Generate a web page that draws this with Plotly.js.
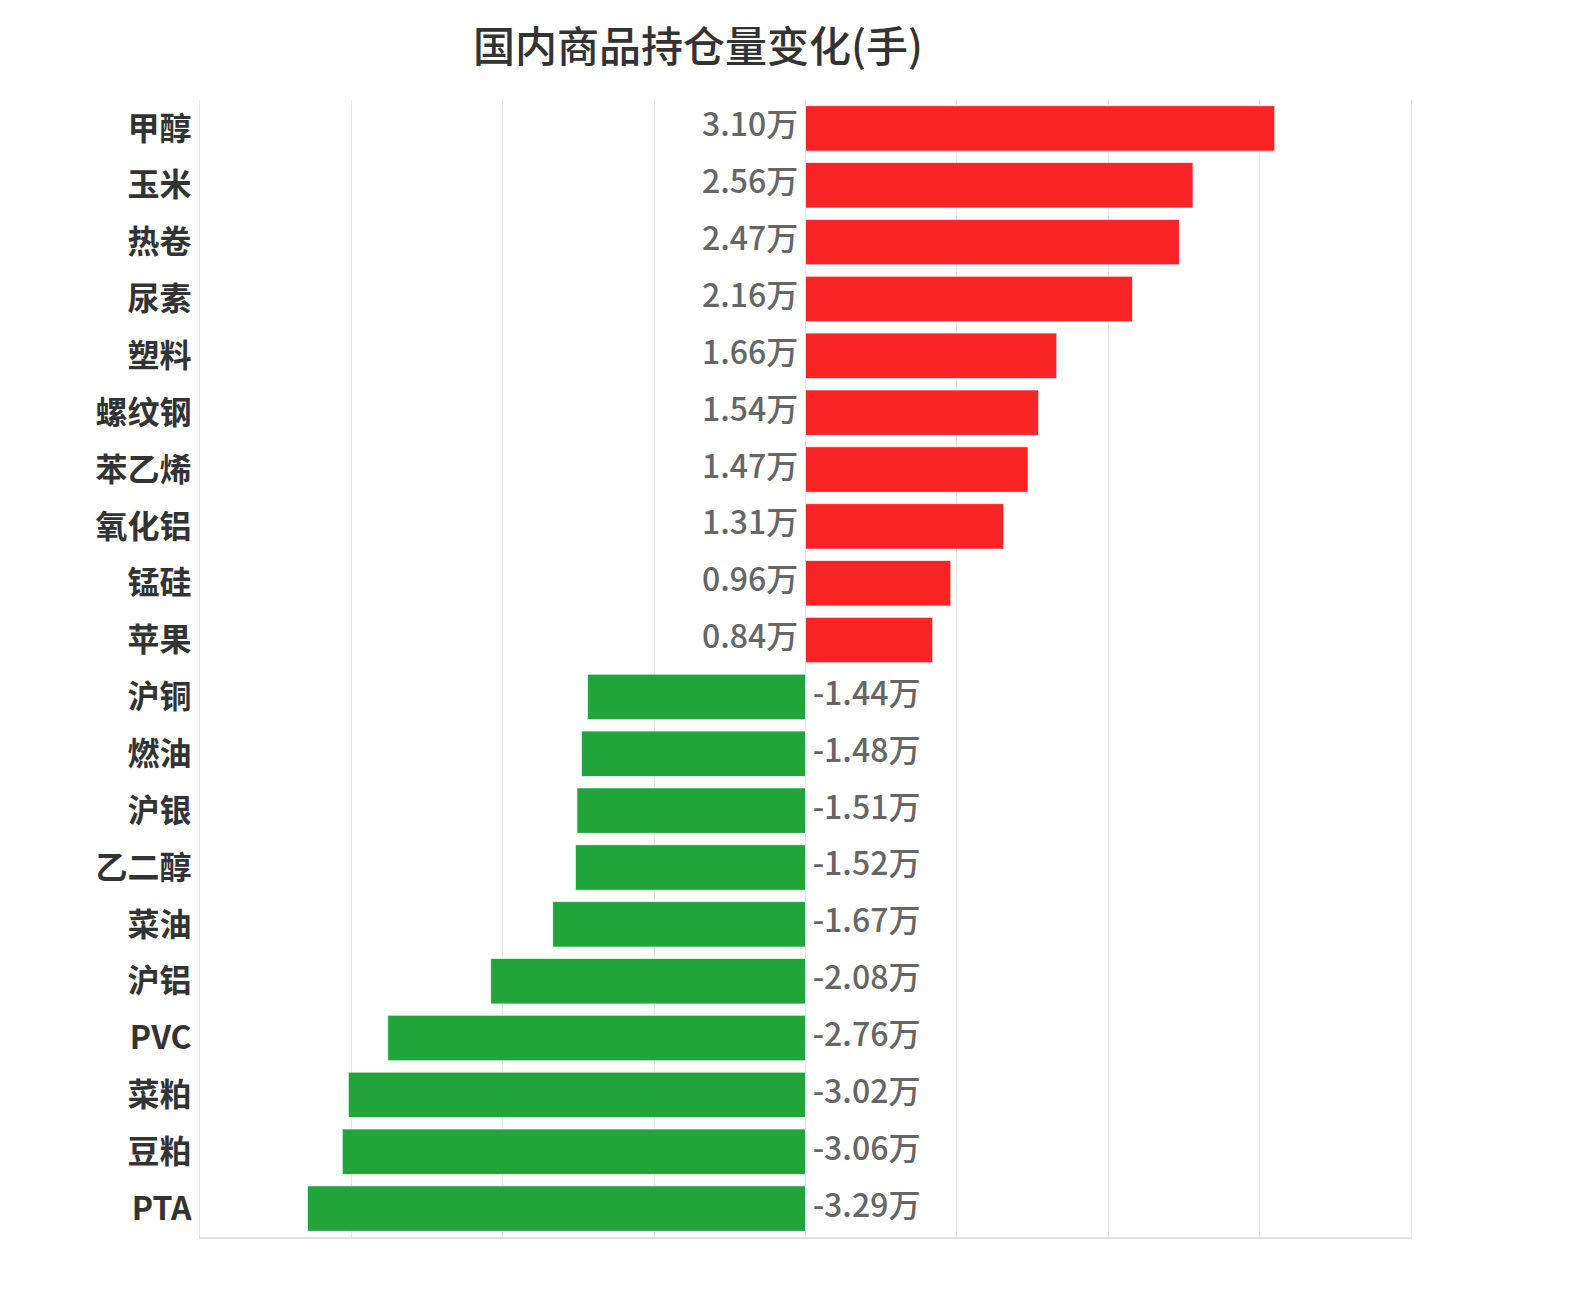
<!DOCTYPE html>
<html>
<head>
<meta charset="utf-8">
<script src="https://cdn.plot.ly/plotly-3.0.1.min.js"></script>
<style>html,body{margin:0;padding:0;background:#fff;}#chart{width:1572px;height:1300px;}</style>
</head>
<body>
<div id="chart"></div>
<script>
const categories = ["甲醇","玉米","热卷","尿素","塑料","螺纹钢","苯乙烯","氧化铝","锰硅","苹果","沪铜","燃油","沪银","乙二醇","菜油","沪铝","PVC","菜粕","豆粕","PTA"];
const values = [3.10,2.56,2.47,2.16,1.66,1.54,1.47,1.31,0.96,0.84,-1.44,-1.48,-1.51,-1.52,-1.67,-2.08,-2.76,-3.02,-3.06,-3.29];
const unit = "万";
const upColor = "#f92426";
const downColor = "#21a43a";

const colors = values.map(v => v >= 0 ? upColor : downColor);
const labels = values.map(v => v >= 0 ? v.toFixed(2) + unit + " " : " " + v.toFixed(2) + unit);
const font = "'Noto Sans CJK SC', 'Noto Sans', sans-serif";

const bars = {
  type: "bar",
  orientation: "h",
  x: values,
  y: categories,
  marker: {color: colors, line: {color: "rgba(255,255,255,0.7)", width: 1}},
  hoverinfo: "none"
};
const txt = {
  type: "scatter",
  mode: "text",
  x: values.map(() => 0),
  y: categories,
  text: labels,
  textposition: values.map(v => v >= 0 ? "middle left" : "middle right"),
  textfont: {family: font, size: 32, color: "#666", weight: 500},
  hoverinfo: "none",
  cliponaxis: false
};

const layout = {
  width: 1572, height: 1300,
  margin: {l: 200, r: 161, t: 100, b: 63},
  paper_bgcolor: "#fff", plot_bgcolor: "#fff",
  showlegend: false,
  bargap: 0.2,
  title: {text: "国内商品持仓量变化(手)", x: 698/1572, xanchor: "center", y: 1 - 47/1300, yanchor: "middle",
          font: {family: font, size: 42, color: "#333", weight: 500}},
  xaxis: {range: [-4, 4], tickvals: [-4,-3,-2,-1,0,1,2,3,4], showticklabels: false, showgrid: true, gridcolor: "#e6e6e6", gridwidth: 1,
          zeroline: false, showline: true, linecolor: "#e0e0e0", linewidth: 2, mirror: false, fixedrange: true},
  yaxis: {range: [19.5, -0.5], type: "category", showgrid: false, zeroline: false,
          showline: true, mirror: true, linecolor: "#e6e6e6", linewidth: 1,
          ticks: "outside", ticklen: 1, tickcolor: "rgba(0,0,0,0)",
          tickfont: {family: font, size: 32, color: "#333", weight: "bold"}, fixedrange: true}
};

Plotly.newPlot("chart", [bars, txt], layout, {displayModeBar: false, staticPlot: true});
</script>
</body>
</html>
